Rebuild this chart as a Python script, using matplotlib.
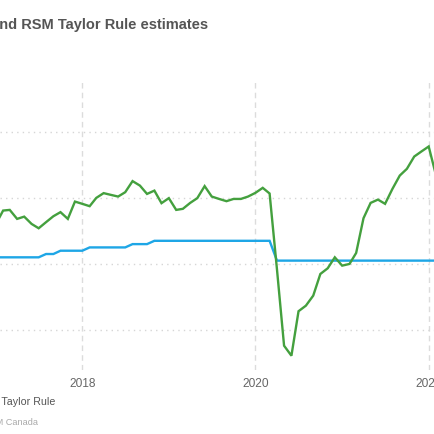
import pandas as pd
import matplotlib
matplotlib.use('Agg')
import matplotlib.pyplot as plt
import matplotlib.dates as mdates

plt.rcParams['font.family'] = ['Liberation Sans', 'DejaVu Sans']

# monthly, Jan 2017 .. Feb 2022
months = pd.date_range('2017-01-01', '2022-02-01', freq='MS')

policy_rate = [
    0.5, 0.5, 0.5, 0.5, 0.5, 0.5, 0.5, 0.75, 0.75, 1.0, 1.0, 1.0,          # 2017
    1.0, 1.25, 1.25, 1.25, 1.25, 1.25, 1.25, 1.5, 1.5, 1.5, 1.75, 1.75,    # 2018
    1.75, 1.75, 1.75, 1.75, 1.75, 1.75, 1.75, 1.75, 1.75, 1.75, 1.75, 1.75,  # 2019
    1.75, 1.75, 1.75, 0.25, 0.25, 0.25, 0.25, 0.25, 0.25, 0.25, 0.25, 0.25,  # 2020
    0.25, 0.25, 0.25, 0.25, 0.25, 0.25, 0.25, 0.25, 0.25, 0.25, 0.25, 0.25,  # 2021
    0.25, 0.25,                                                            # 2022
]

taylor_rule = [
    3.0, 4.04, 4.09, 3.41, 3.58, 3.03, 2.70, 3.16, 3.61, 3.92, 3.41, 4.72,
    4.55, 4.37, 5.0, 5.36, 5.23, 5.10, 5.43, 6.27, 5.93, 5.3, 5.55, 4.6,
    4.98, 4.09, 4.17, 4.62, 4.98, 5.89, 5.10, 4.92, 4.75, 4.92, 4.92, 5.10,
    5.38, 5.76, 5.33, -0.4, -6.19, -6.95, -3.58, -3.16, -2.4, -0.76, -0.33, 0.5,
    -0.13, 0.0, 0.83, 3.46, 4.62, 4.87, 4.55, 5.68, 6.69, 7.2, 8.13, 8.51,
    8.89, 6.69,
]

year_ticks = ['2018', '2020', '2022']

W = 435.0
fig = plt.figure(figsize=(4.35, 4.35), dpi=100)
ax = fig.add_axes([0, 1 - 370.6 / W, 1, (370.6 - 80) / W])

ax.plot(months, policy_rate, color='#1ea6e6', lw=1.7, solid_joinstyle='miter')
ax.plot(months, taylor_rule, color='#44a03e', lw=1.7, solid_joinstyle='miter')

# the reference is a crop of a wider chart: 2018 sits at x=82px, 2022 at x=429px
d18 = mdates.date2num(pd.Timestamp('2018-01-01'))
d22 = mdates.date2num(pd.Timestamp('2022-01-01'))
ppd = (428.7 - 82.3) / (d22 - d18)
ax.set_xlim(d18 - 82.3 / ppd, d18 + (W - 82.3) / ppd)
ax.set_ylim(-8, 14)

ax.set_xticks([pd.Timestamp(y + '-01-01') for y in year_ticks])
ax.set_xticklabels(year_ticks)
ax.set_yticks([-5, 0, 5, 10])
ax.xaxis.grid(True, linestyle=(0, (4, 3)), color='#dcdcdc', lw=1)
ax.yaxis.grid(True, linestyle=(0, (1, 3)), color='#d6d6d6', lw=1)
ax.set_axisbelow(True)
ax.tick_params(length=0, labelleft=False, labelsize=8.6, labelcolor='#666666', pad=5)
for s in ax.spines.values():
    s.set_visible(False)

fig.text(208 / W, 1 - 29 / W, 'Policy rate and RSM Taylor Rule estimates', ha='right',
         va='baseline', fontsize=10.5, fontweight='bold', color='#555555')
fig.text(55.5 / W, 1 - 405 / W, 'RSM Taylor Rule', ha='right', va='baseline',
         fontsize=7.7, color='#555555')
fig.text(38.5 / W, 1 - 425 / W, 'Source: Bank of Canada, RSM Canada', ha='right',
         va='baseline', fontsize=6.6, color='#aaaaaa')

fig.savefig('out.png', dpi=100)
